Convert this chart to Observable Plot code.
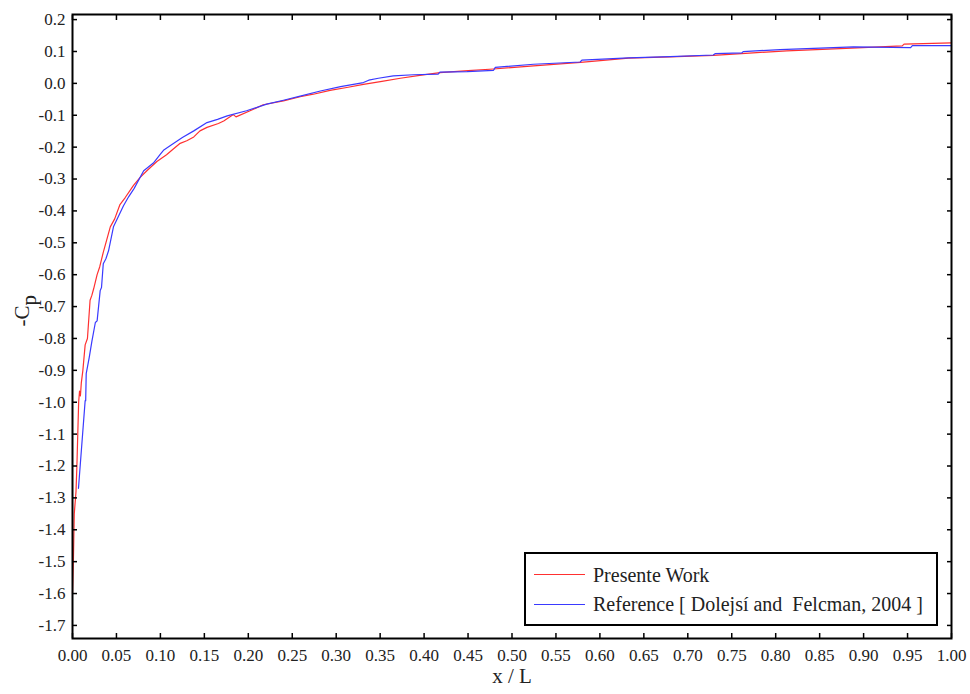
<!DOCTYPE html>
<html><head><meta charset="utf-8">
<script src="https://cdn.jsdelivr.net/npm/d3@7"></script>
<script src="https://cdn.jsdelivr.net/npm/@observablehq/plot@0.6"></script>
<style>
body{margin:0;background:#fff;}
#wrap{position:relative;width:970px;height:694px;font-family:'Liberation Serif','Times New Roman','DejaVu Serif',serif;}
#wrap svg text{font-family:'Liberation Serif','Times New Roman','DejaVu Serif',serif;}
#legend{position:absolute;left:524px;top:552px;width:410px;height:70px;border:2px solid #000;background:#fff;}
.sw{position:absolute;left:8px;width:51px;height:0;border-top:1.3px solid;}
.lt{position:absolute;left:67px;font-size:20px;line-height:20px;color:#222;white-space:pre;font-family:'Liberation Serif','Times New Roman','DejaVu Serif',serif;}
</style></head>
<body><div id="wrap"></div>
<script>
const presentX = [0.000,0.001,0.002,0.004,0.005,0.007,0.008,0.009,0.010,0.0118,0.0144,0.017,0.020,0.022,0.024,0.028,0.031,0.035,0.039,0.043,0.048,0.054,0.060,0.0694,0.077,0.0846,0.096,0.107,0.115,0.1225,0.130,0.138,0.145,0.153,0.166,0.172,0.183,0.186,0.202,0.217,0.240,0.259,0.274,0.293,0.312,0.331,0.352,0.373,0.395,0.418,0.450,0.479,0.5245,0.578,0.6325,0.680,0.729,0.770,0.8125,0.880,0.944,0.946,1.000];
const presentCp = [-1.60,-1.50,-1.35,-1.28,-1.20,-1.00,-0.965,-0.98,-0.94,-0.90,-0.82,-0.80,-0.68,-0.665,-0.645,-0.60,-0.575,-0.53,-0.49,-0.45,-0.425,-0.38,-0.358,-0.32,-0.295,-0.274,-0.245,-0.224,-0.205,-0.188,-0.180,-0.168,-0.149,-0.138,-0.126,-0.118,-0.098,-0.105,-0.086,-0.067,-0.055,-0.042,-0.034,-0.022,-0.013,-0.003,0.006,0.016,0.025,0.034,0.040,0.045,0.055,0.066,0.079,0.083,0.088,0.095,0.102,0.110,0.1175,0.123,0.127];

const referenceX = [0.0068,0.0144,0.0150,0.0156,0.019,0.022,0.026,0.028,0.0315,0.033,0.035,0.038,0.041,0.0466,0.050,0.058,0.064,0.070,0.081,0.092,0.100,0.1035,0.111,0.125,0.138,0.153,0.165,0.176,0.198,0.221,0.240,0.259,0.282,0.305,0.331,0.337,0.348,0.365,0.388,0.416,0.418,0.449,0.479,0.481,0.5245,0.5776,0.5795,0.6325,0.680,0.729,0.731,0.7615,0.763,0.805,0.8885,0.9535,0.9555,1.000];
const referenceCp = [-1.27,-0.995,-0.995,-0.91,-0.86,-0.81,-0.75,-0.745,-0.65,-0.64,-0.566,-0.55,-0.525,-0.45,-0.43,-0.384,-0.355,-0.33,-0.274,-0.250,-0.222,-0.21,-0.196,-0.17,-0.149,-0.123,-0.113,-0.102,-0.086,-0.065,-0.053,-0.040,-0.024,-0.010,0.0025,0.010,0.016,0.0235,0.027,0.029,0.035,0.037,0.041,0.050,0.060,0.067,0.073,0.080,0.084,0.089,0.093,0.0955,0.0997,0.106,0.1144,0.112,0.1185,0.1185];

const xTicks = [0.00,0.05,0.10,0.15,0.20,0.25,0.30,0.35,0.40,0.45,0.50,0.55,0.60,0.65,0.70,0.75,0.80,0.85,0.90,0.95,1.00];
const yTicks = [0.2,0.1,0.0,-0.1,-0.2,-0.3,-0.4,-0.5,-0.6,-0.7,-0.8,-0.9,-1.0,-1.1,-1.2,-1.3,-1.4,-1.5,-1.6,-1.7];

const seriesNames = ["Presente Work", "Reference [ Dolejsí and  Felcman, 2004 ]"];
const seriesColors = ["#ff3030", "#3a3aff"];

const presentData = presentX.map((x, i) => ({x, cp: presentCp[i]}));
const referenceData = referenceX.map((x, i) => ({x, cp: referenceCp[i]}));

const chart = Plot.plot({
  width: 970, height: 694,
  marginLeft: 72, marginRight: 19, marginTop: 14, marginBottom: 56,
  style: {fontFamily: "'Liberation Serif', 'Times New Roman', 'DejaVu Serif', serif", fontSize: "17px", color: "#000", background: "#fff"},
  x: {domain: [0, 1]},
  y: {domain: [-1.741, 0.216]},
  marks: [
    Plot.line(presentData, {x: "x", y: "cp", stroke: seriesColors[0], strokeWidth: 1.2}),
    Plot.line(referenceData, {x: "x", y: "cp", stroke: seriesColors[1], strokeWidth: 1.2}),
    Plot.axisX({ticks: xTicks, tickFormat: d => d.toFixed(2), tickSize: -5, tickPadding: 15, label: null, strokeWidth: 1.5, fill: "#222"}),
    Plot.axisX({anchor: "top", ticks: xTicks, tickFormat: () => "", tickSize: -5, label: null, strokeWidth: 1.5}),
    Plot.axisY({ticks: yTicks, tickFormat: d => d.toFixed(1), tickSize: -5, tickPadding: 12, label: null, strokeWidth: 1.5, fill: "#222"}),
    Plot.axisY({anchor: "right", ticks: yTicks, tickFormat: () => "", tickSize: -5, label: null, strokeWidth: 1.5}),
    Plot.frame({stroke: "#000", strokeWidth: 2}),
    Plot.text(["x / L"], {text: d => d, frameAnchor: "bottom", dy: 44, fontSize: 21, fill: "#222"}),
    Plot.text(["-C"], {text: d => d, frameAnchor: "left", dx: -50, rotate: -90, fontSize: 21, fill: "#222"})
  ]
});

d3.select(chart).selectAll("text").filter(function() { return this.textContent === "-C"; })
  .append("tspan").attr("dy", "0.3em").text("p");

const wrap = document.getElementById("wrap");
wrap.appendChild(chart);

const legend = document.createElement("div");
legend.id = "legend";
seriesNames.forEach((name, i) => {
  const sw = document.createElement("div");
  sw.className = "sw";
  sw.style.top = (20 + i * 29.5) + "px";
  sw.style.borderTopColor = seriesColors[i];
  legend.appendChild(sw);
  const t = document.createElement("div");
  t.className = "lt";
  t.style.top = (11 + i * 29) + "px";
  t.textContent = name;
  legend.appendChild(t);
});
wrap.appendChild(legend);
</script>
</body></html>
